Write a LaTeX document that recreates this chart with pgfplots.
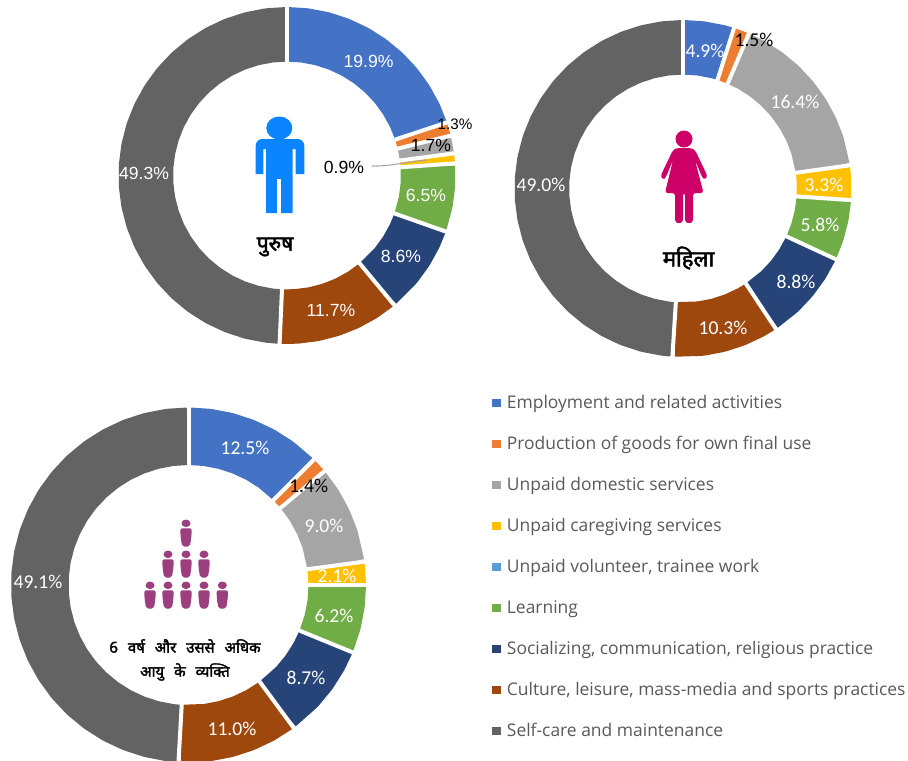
\documentclass[border=0pt]{standalone}
\usepackage{fontspec}
\usepackage{pgfplots}
\pgfplotsset{compat=1.18}
\usepgfplotslibrary{polar}
\setmainfont{Liberation Sans}
\newfontfamily\calibf{Carlito}
\newfontfamily\legf{Open Sans}
\newfontfamily\hindi[Script=Devanagari,FakeBold=2.2]{Noto Sans}
\definecolor{cEmp}{HTML}{4472C4}
\definecolor{cProd}{HTML}{ED7D31}
\definecolor{cDom}{HTML}{A5A5A5}
\definecolor{cCare}{HTML}{FFC000}
\definecolor{cVol}{HTML}{5B9BD5}
\definecolor{cLearn}{HTML}{70AD47}
\definecolor{cSoc}{HTML}{264478}
\definecolor{cCult}{HTML}{9E480E}
\definecolor{cSelf}{HTML}{636363}
\definecolor{cMan}{HTML}{0A84FF}
\definecolor{cWoman}{HTML}{CC0066}
\definecolor{cGroup}{HTML}{9B3F7F}
\pgfplotsset{
  donut/.style={hide axis, scale only axis, clip=false, anchor=origin,
    xmin=0, xmax=360, ymin=0, ymax=1.193,
    x filter/.expression={90-3.6*x},
    cycle list={{black}}},
  slice/.style={line cap=butt, line join=round, no markers, forget plot},
  gapline/.style={white, line width=3pt, line cap=butt, no markers, forget plot}
}
\newcommand\gap[1]{\addplot[gapline] coordinates {(#1,0.75)(#1,1.3)};}
\newcommand\person[2]{%
  \fill[cGroup] (#1,#2) ellipse (4.5 and 3.8);
  \fill[cGroup,rounded corners=1.5] (#1-5.7,#2+5) -- (#1+5.7,#2+5) -- (#1+5.4,#2+14) -- (#1+3.8,#2+23.3) -- (#1-3.8,#2+23.3) -- (#1-5.4,#2+14) -- cycle;}
\begin{document}
\begin{tikzpicture}[x=0.75pt,y=-0.75pt]
% ---------- men
\begin{polaraxis}[donut, at={(215.25pt,-131.63pt)}, width=252.75pt, height=252.75pt]
\addplot[slice,cEmp,line width=40.9pt] coordinates {(0,1)(2,1)(4,1)(6,1)(8,1)(10,1)(12,1)(14,1)(16,1)(18,1)(19.9,1)};
\addplot[slice,cProd,line width=40.9pt] coordinates {(19.9,1)(21.2,1)};
\addplot[slice,cDom,line width=40.9pt] coordinates {(21.2,1)(22.9,1)};
\addplot[slice,cCare,line width=40.9pt] coordinates {(22.9,1)(23.8,1)};
\addplot[slice,cVol,line width=40.9pt] coordinates {(23.8,1)(23.9,1)};
\addplot[slice,cLearn,line width=40.9pt] coordinates {(23.9,1)(26,1)(28,1)(30.4,1)};
\addplot[slice,cSoc,line width=40.9pt] coordinates {(30.4,1)(32,1)(34,1)(36,1)(39,1)};
\addplot[slice,cCult,line width=40.9pt] coordinates {(39,1)(41,1)(43,1)(45,1)(47,1)(49,1)(50.7,1)};
\addplot[slice,cSelf,line width=40.9pt] coordinates {(50.7,1)(52,1)(54,1)(56,1)(58,1)(60,1)(62,1)(64,1)(66,1)(68,1)(70,1)(72,1)(74,1)(76,1)(78,1)(80,1)(82,1)(84,1)(86,1)(88,1)(90,1)(92,1)(94,1)(96,1)(98,1)(100,1)};
\gap{0}\gap{19.9}\gap{21.2}\gap{22.9}\gap{23.85}\gap{30.4}\gap{39}\gap{50.7}
\end{polaraxis}
% ---------- women
\begin{polaraxis}[donut, at={(512.25pt,-141.38pt)}, width=252.75pt, height=252.75pt]
\addplot[slice,cEmp,line width=40.9pt] coordinates {(0,1)(2,1)(4,1)(4.9,1)};
\addplot[slice,cProd,line width=40.9pt] coordinates {(4.9,1)(6.4,1)};
\addplot[slice,cDom,line width=40.9pt] coordinates {(6.4,1)(8,1)(10,1)(12,1)(14,1)(16,1)(18,1)(20,1)(22.8,1)};
\addplot[slice,cCare,line width=40.9pt] coordinates {(22.8,1)(24,1)(26.1,1)};
\addplot[slice,cLearn,line width=40.9pt] coordinates {(26.1,1)(28,1)(30,1)(31.9,1)};
\addplot[slice,cSoc,line width=40.9pt] coordinates {(31.9,1)(34,1)(36,1)(38,1)(40.7,1)};
\addplot[slice,cCult,line width=40.9pt] coordinates {(40.7,1)(42,1)(44,1)(46,1)(48,1)(51,1)};
\addplot[slice,cSelf,line width=40.9pt] coordinates {(51,1)(52,1)(54,1)(56,1)(58,1)(60,1)(62,1)(64,1)(66,1)(68,1)(70,1)(72,1)(74,1)(76,1)(78,1)(80,1)(82,1)(84,1)(86,1)(88,1)(90,1)(92,1)(94,1)(96,1)(98,1)(100,1)};
\gap{0}\gap{4.9}\gap{6.4}\gap{22.8}\gap{26.1}\gap{31.9}\gap{40.7}\gap{51}
\end{polaraxis}
% ---------- all persons
\begin{polaraxis}[donut, at={(141.38pt,-438.75pt)}, width=266.25pt, height=266.25pt]
\addplot[slice,cEmp,line width=43.1pt] coordinates {(0,1)(2,1)(4,1)(6,1)(8,1)(10,1)(12.5,1)};
\addplot[slice,cProd,line width=43.1pt] coordinates {(12.5,1)(13.9,1)};
\addplot[slice,cDom,line width=43.1pt] coordinates {(13.9,1)(16,1)(18,1)(20,1)(22.9,1)};
\addplot[slice,cCare,line width=43.1pt] coordinates {(22.9,1)(25,1)};
\addplot[slice,cLearn,line width=43.1pt] coordinates {(25,1)(27,1)(29,1)(31.2,1)};
\addplot[slice,cSoc,line width=43.1pt] coordinates {(31.2,1)(33,1)(35,1)(37,1)(39.9,1)};
\addplot[slice,cCult,line width=43.1pt] coordinates {(39.9,1)(42,1)(44,1)(46,1)(48,1)(50.9,1)};
\addplot[slice,cSelf,line width=43.1pt] coordinates {(50.9,1)(52,1)(54,1)(56,1)(58,1)(60,1)(62,1)(64,1)(66,1)(68,1)(70,1)(72,1)(74,1)(76,1)(78,1)(80,1)(82,1)(84,1)(86,1)(88,1)(90,1)(92,1)(94,1)(96,1)(98,1)(100,1)};
\gap{0}\gap{12.5}\gap{13.9}\gap{22.9}\gap{25}\gap{31.2}\gap{39.9}\gap{50.9}
\end{polaraxis}
% ---------- legend
\begin{axis}[hide axis, scale only axis, width=20pt, height=20pt, xmin=0, xmax=1, ymin=0, ymax=1,
  at={(369.2pt,-296.8pt)}, anchor=north west,
  legend image code/.code={\fill[#1] (0pt,-1.8pt) rectangle (5.6pt,3.8pt);},
  legend cell align=left,
  legend style={at={(0,1)}, anchor=north west, draw=none, fill=none, inner sep=0pt, outer sep=0pt,
    row sep=18.25pt,
    font=\legf\fontsize{13.08}{15}\selectfont\color[HTML]{595959},
    nodes={inner sep=0pt, text height=9.5pt, text depth=3pt},
    /tikz/every odd column/.append style={column sep=5pt}}]
\addlegendimage{cEmp}\addlegendentry{Employment and related activities}
\addlegendimage{cProd}\addlegendentry{Production of goods for own final use}
\addlegendimage{cDom}\addlegendentry{Unpaid domestic services}
\addlegendimage{cCare}\addlegendentry{Unpaid caregiving services}
\addlegendimage{cVol}\addlegendentry{Unpaid volunteer, trainee work}
\addlegendimage{cLearn}\addlegendentry{Learning}
\addlegendimage{cSoc}\addlegendentry{Socializing, communication, religious practice}
\addlegendimage{cCult}\addlegendentry{Culture, leisure, mass-media and sports practices}
\addlegendimage{cSelf}\addlegendentry{Self-care and maintenance}
\end{axis}
% ---------- men labels
\draw[cDom,line width=0.8pt] (372,166) .. controls (390,166.5) and (405,162) .. (427,160);
\begin{scope}[every node/.style={inner sep=0pt,font=\fontsize{13.2}{15}\selectfont}]
\node[white] at (368.5,61) {19.9\%};
\node[black,font=\fontsize{11.4}{13}\selectfont] at (455,124) {1.3\%};
\node[black] at (431,145) {1.7\%};
\node[black] at (344,167) {0.9\%};
\node[white] at (426,195) {6.5\%};
\node[white] at (401,256) {8.6\%};
\node[white] at (331,310) {11.7\%};
\node[white] at (144,173) {49.3\%};
\end{scope}
% ---------- women and all labels
\begin{scope}[every node/.style={inner sep=0pt,font=\calibf\fontsize{14.7}{17}\selectfont}]
\node[white] at (705,51) {4.9\%};
\node[black] at (754,40) {1.5\%};
\node[white] at (795,102) {16.4\%};
\node[white] at (824,185) {3.3\%};
\node[white] at (820,225) {5.8\%};
\node[white] at (796,282) {8.8\%};
\node[white] at (723,328) {10.3\%};
\node[white] at (541,185) {49.0\%};
\node[white] at (245,448) {12.5\%};
\node[black] at (308.7,486) {1.4\%};
\node[white] at (324,526) {9.0\%};
\node[white] at (337,576) {2.1\%};
\node[white] at (334,616) {6.2\%};
\node[white] at (306,678) {8.7\%};
\node[white] at (232,729) {11.0\%};
\node[white] at (38,582) {49.1\%};
\end{scope}
% ---------- centre captions
\begin{scope}[every node/.style={inner sep=0pt,black}]
\node[font=\hindi\fontsize{15.7}{18}\selectfont] at (275,247) {पुरुष};
\node[font=\hindi\fontsize{16.6}{19}\selectfont] at (688.5,258) {महिला};
\node[font=\hindi\fontsize{11.2}{13}\selectfont] at (185,646) {6\hspace{7.5pt}वर्ष\hspace{7.5pt}और\hspace{7.5pt}उससे\hspace{7.5pt}अधिक};
\node[font=\hindi\fontsize{11.2}{13}\selectfont] at (185,672) {आयु\hspace{7.5pt}के\hspace{7.5pt}व्यक्ति};
\end{scope}
% ---------- icons
\fill[cMan] (279.3,128) ellipse (13 and 11.5);
\fill[cMan] (255.7,174) [rounded corners=5] -- (255.7,139) -- (304.3,139) [sharp corners] -- (304.3,174) -- (295.7,174) -- (295.7,149) -- (292.7,149) -- (292.7,213) -- (266,213) -- (266,149) -- (263.3,149) -- (263.3,174) -- cycle;
\fill[white] (277.3,179) rectangle (280.7,214);
\fill[cWoman] (684,139) circle (8.5);
\fill[cWoman,rounded corners=2] (677,148) -- (691,148) -- (695,150) -- (707.5,176) -- (705,180) -- (702,177) -- (695,160) -- (703.5,193) -- (693,193) -- (693,222) -- (689,223.5) -- (685,222) -- (685,193) -- (683,193) -- (683,222) -- (679,223.5) -- (675,222) -- (675,193) -- (665,193) -- (673,160) -- (666,177) -- (663,180) -- (660.5,176) -- (673,150) -- cycle;
\person{186}{523.3}
\person{168}{554.3}\person{186}{554.3}\person{204}{554.3}
\person{150}{585.3}\person{168}{585.3}\person{186}{585.3}\person{204}{585.3}\person{222.3}{585.3}
\pgfresetboundingbox
\path[use as bounding box] (0,0) rectangle (908,761);
\end{tikzpicture}
\end{document}
